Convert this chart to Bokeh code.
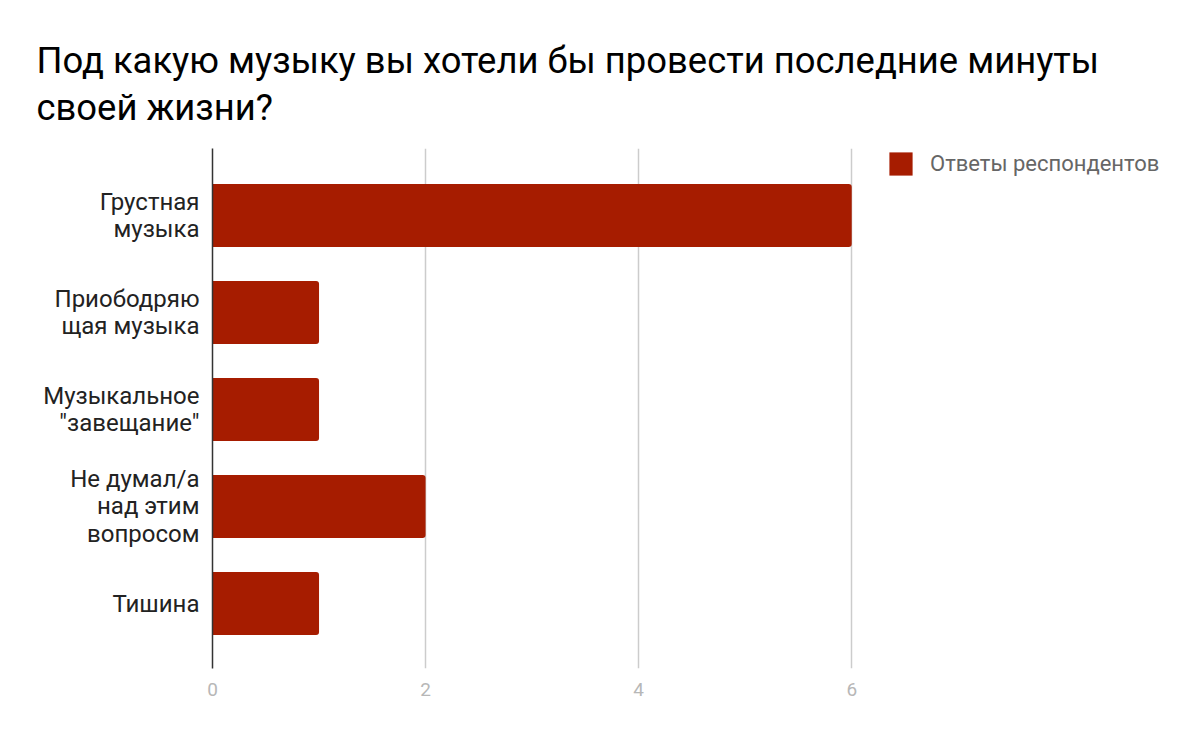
from bokeh.plotting import figure
from bokeh.models import Range1d, FixedTicker, ColumnDataSource
from bokeh.embed import file_html
from bokeh.resources import INLINE

categories = ["Грустная\nмузыка", "Приободряю\nщая музыка", "Музыкальное\n\"завещание\"",
              "Не думал/а\nнад этим\nвопросом", "Тишина"]
values = [6, 1, 1, 2, 1]
x_ticks = [0, 2, 4, 6]
series_name = "Ответы респондентов"
title_text = "Под какую музыку вы хотели бы провести последние минуты\nсвоей жизни?"

positions = list(range(len(categories)))
source = ColumnDataSource(dict(y=positions, right=values, left=[0] * len(values)))

p = figure(width=1200, height=742, output_backend="svg", toolbar_location=None,
           x_range=Range1d(0, 9.18), y_range=Range1d(len(categories) - 1 + 0.67, -0.69),
           min_border_left=212, min_border_right=10, min_border_bottom=74, min_border_top=148)

p.title.text = title_text
p.title.text_font = "Roboto"
p.title.text_font_size = "36.4px"
p.title.text_font_style = "normal"
p.title.text_color = "#000000"
p.title.text_line_height = 1.1
p.title.offset = -176
p.title.standoff = 39

p.hbar(y="y", left="left", right="right", height=0.65, source=source,
       fill_color="#a61c00", line_color=None, legend_label=series_name,
       border_radius=(0, 3, 3, 0))

p.yaxis.ticker = FixedTicker(ticks=positions)
p.yaxis.major_label_overrides = {i: c for i, c in enumerate(categories)}
p.yaxis.major_label_text_font = "Roboto"
p.yaxis.major_label_text_font_size = "24px"
p.yaxis.major_label_text_line_height = 0.97
p.yaxis.major_label_text_color = "#222222"
p.yaxis.major_label_standoff = 7
p.yaxis.major_tick_line_color = None
p.yaxis.minor_tick_line_color = None
p.yaxis.axis_line_color = "#333333"
p.yaxis.axis_line_width = 1.5

p.xaxis.ticker = FixedTicker(ticks=x_ticks)
p.xaxis.major_label_text_font = "Roboto"
p.xaxis.major_label_text_font_size = "19px"
p.xaxis.major_label_text_color = "#b7b7b7"
p.xaxis.major_label_standoff = 8
p.xaxis.major_tick_line_color = None
p.xaxis.minor_tick_line_color = None
p.xaxis.axis_line_color = None

p.xgrid.ticker = FixedTicker(ticks=x_ticks)
p.xgrid.grid_line_color = "#cccccc"
p.xgrid.grid_line_width = 1.5
p.ygrid.grid_line_color = None
p.outline_line_color = None

p.legend.location = (674, 490)
p.legend.glyph_width = 29
p.legend.glyph_height = 29
p.legend.label_standoff = 15
p.legend.label_height = 29
p.legend.padding = 0
p.legend.margin = 0
p.legend.spacing = 0
p.legend.border_line_color = None
p.legend.background_fill_alpha = 0
p.legend.label_text_font = "Roboto"
p.legend.label_text_font_size = "22px"
p.legend.label_text_color = "#666666"

open("out.html", "w").write(file_html(p, INLINE))
